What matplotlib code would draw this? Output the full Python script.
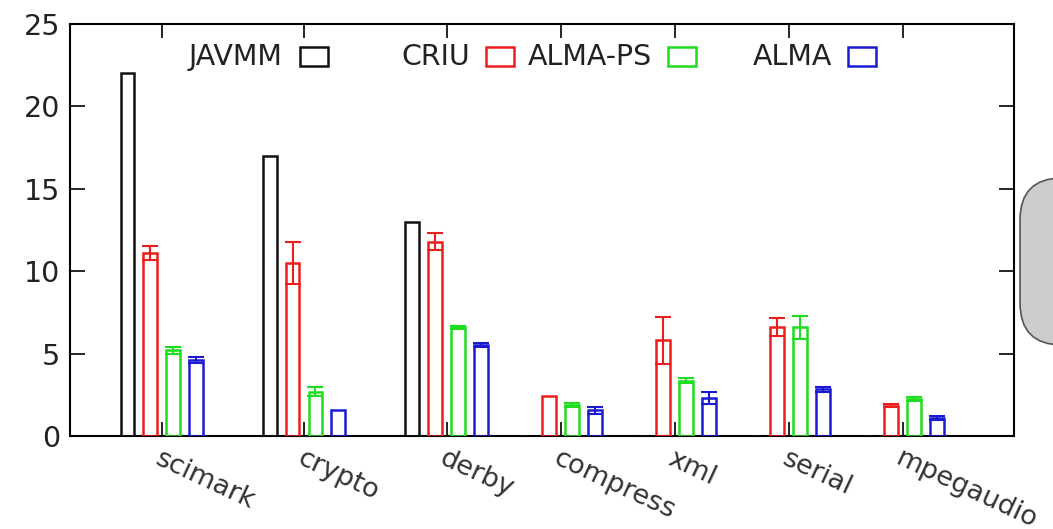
import numpy as np
import matplotlib.pyplot as plt
from matplotlib.patches import Rectangle, FancyBboxPatch

categories = ['scimark', 'crypto', 'derby', 'compress', 'xml', 'serial', 'mpegaudio']
series = ['JAVMM', 'CRIU', 'ALMA-PS', 'ALMA']

javmm = [22.0, 17.0, 13.0, 0.0, 0.0, 0.0, 0.0]
criu = [11.1, 10.5, 11.8, 2.4, 5.8, 6.6, 1.85]
alma_ps = [5.2, 2.7, 6.6, 1.9, 3.35, 6.6, 2.25]
alma = [4.6, 1.55, 5.5, 1.55, 2.3, 2.85, 1.1]

javmm_err = [0, 0, 0, 0, 0, 0, 0]
criu_err = [0.45, 1.25, 0.5, 0, 1.45, 0.55, 0.1]
alma_ps_err = [0.2, 0.3, 0.1, 0.12, 0.15, 0.7, 0.12]
alma_err = [0.2, 0, 0.12, 0.2, 0.35, 0.15, 0.1]

values = [javmm, criu, alma_ps, alma]
errors = [javmm_err, criu_err, alma_ps_err, alma_err]
colors = ['#111111', '#ee1c1c', '#1edc1e', '#1a1ad2']

# group centres (gaps between the first groups are wider in the original)
group_pos = np.array([0, 1.25, 2.5, 3.5, 4.5, 5.5, 6.5])
bar_w = 0.12
step = 0.2
fs = 20.5

W, H = 1053, 529
fig = plt.figure(figsize=(W / 100, H / 100), dpi=100)
ax = fig.add_axes([70 / W, (H - 436) / H, 944 / W, 412 / H])

for i, (vals, errs, col) in enumerate(zip(values, errors, colors)):
    xs = group_pos + (i - 1.5) * step
    ax.bar(xs, vals, width=bar_w, facecolor='none', edgecolor=col,
           linewidth=1.8, zorder=3)
    errs = np.array(errs)
    mask = errs > 0
    if mask.any():
        ax.errorbar(xs[mask], np.array(vals)[mask], yerr=errs[mask], fmt='none',
                    ecolor=col, elinewidth=1.5, capsize=5.5, capthick=1.5, zorder=4)

ax.set_xlim(-0.803, 7.478)
ax.set_ylim(0, 25)
ax.set_yticks([0, 5, 10, 15, 20, 25])
ax.set_xticks(group_pos)
ax.set_xticklabels(categories, rotation=-25, ha='left', va='top',
                   rotation_mode='anchor', fontsize=19.5, color='#333333')
ax.tick_params(axis='y', direction='in', length=11, width=1.2, right=True,
               labelsize=fs, pad=7, labelcolor='#222222')
ax.tick_params(axis='x', direction='in', length=10, width=1.2, top=True, pad=7)
for s in ax.spines.values():
    s.set_linewidth(1.5)

# legend, gnuplot style: label then box
legend_items = [(282, 300), (470, 486), (652, 668), (832, 848)]
for (tx, bx), name, col in zip(legend_items, series, colors):
    ax.text((tx - 70) / 944, (436 - 57) / 412, name, transform=ax.transAxes,
            ha='right', va='center', fontsize=fs, color='#222222')
    ax.add_patch(Rectangle(((bx - 70) / 944, (436 - 66) / 412), 28 / 944, 19 / 412,
                           transform=ax.transAxes, facecolor='none', edgecolor=col,
                           linewidth=1.8, clip_on=False))

# grey rounded box cut by the right border
fig.patches.append(FancyBboxPatch((1020 / W, (H - 345) / H), 80 / W, 167 / H,
                                  boxstyle='round,pad=0,rounding_size=0.04',
                                  transform=fig.transFigure, facecolor='#cccccc',
                                  edgecolor='#555555', linewidth=1.2,
                                  mutation_aspect=W / H))

fig.savefig('out.png', dpi=100)
